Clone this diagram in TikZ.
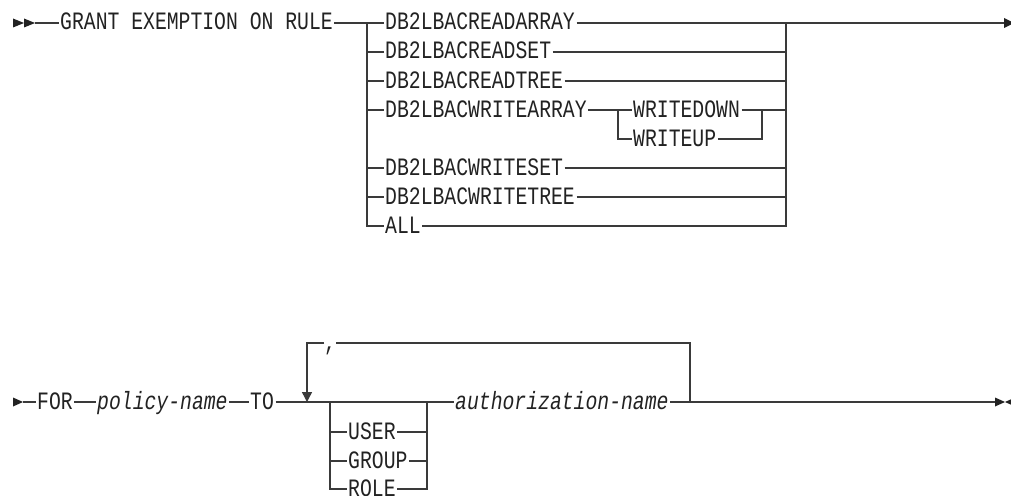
\documentclass[tikz,border=0pt]{standalone}
\usepackage{fontspec}
\newfontfamily\railfont[FakeStretch=0.79]{Liberation Mono}
\definecolor{railline}{HTML}{3A3A3A}
\definecolor{railtext}{HTML}{222222}
\usetikzlibrary{arrows.meta, calc}
\tikzset{
  kw/.style={
    font=\railfont\fontsize{25}{27}\selectfont, text=railtext,
    anchor=west, inner xsep=1.5pt, inner ysep=0pt,
    text height=14pt, text depth=0pt
  },
  var/.style={kw, font=\railfont\itshape\fontsize{25}{27}\selectfont},
  rail/.style={draw=railline, line width=1.4pt},
  loop/.style={rail, -{Triangle[length=10pt,width=10pt]}},
}

\begin{document}
\begin{tikzpicture}[x=1pt, y=-1pt]
  \useasboundingbox[fill=white] (0,0) rectangle (1011,495);

  % GRANT statement, first line
  \coordinate (topstart) at (35,23);
  \coordinate (topend) at (1004,23);
  \fill[railtext] (13,18.5) -- (24,23) -- (13,27.5) -- cycle;
  \fill[railtext] (24,18.5) -- (35,23) -- (24,27.5) -- cycle;
  \node[kw] (grant) at (58.5,23) {GRANT EXEMPTION ON RULE};

  \foreach \nm/\txt/\yy in {ra/DB2LBACREADARRAY/23, rs/DB2LBACREADSET/52,
      rt/DB2LBACREADTREE/81, wa/DB2LBACWRITEARRAY/110, ws/DB2LBACWRITESET/168,
      wt/DB2LBACWRITETREE/197, all/ALL/226}
    \node[kw] (\nm) at (383.5,\yy) {\txt};

  \node[kw] (wd) at (631.5,110) {WRITEDOWN};
  \node[kw] (wu) at (631.5,139) {WRITEUP};

  \coordinate (lbar) at (367,23);
  \coordinate (rbar) at (786,23);
  \coordinate (slbar) at (618,110);
  \coordinate (srbar) at (762,110);

  \draw[rail] (topstart) -- (grant.west);
  \draw[rail] (grant.east) -- (ra.west);
  \draw[rail] (ra.east) -- (topend);
  \draw[rail] (lbar) |- (all.west);
  \foreach \nm in {rs,rt,wa,ws,wt}
    \draw[rail] (lbar |- \nm.west) -- (\nm.west);
  \draw[rail] (rbar) |- (all.east);
  \foreach \nm in {rs,rt,ws,wt}
    \draw[rail] (\nm.east) -- (rbar |- \nm.east);

  % WRITEARRAY options
  \draw[rail] (wa.east) -- (wd.west);
  \draw[rail] (slbar) |- (wu.west);
  \draw[rail] (wd.east) -- (srbar) -- (rbar |- srbar);
  \draw[rail] (wu.east) -| (srbar);
  \fill[railtext] (topend) ++(0,-5) -- ++(10,5) -- ++(-10,5) -- cycle;

  % second line
  \coordinate (botstart) at (23,402);
  \coordinate (botend) at (995,402);
  \fill[railtext] (13,397.5) -- (23,402) -- (13,406.5) -- cycle;
  \node[kw] (for) at (35.5,402) {FOR};
  \node[var] (policy) at (95.5,402) {policy-name};
  \node[kw] (to) at (248.5,402) {TO};
  \node[var] (auth) at (453.5,402) {authorization-name};
  \node[kw] (user) at (346.5,432) {USER};
  \node[kw] (group) at (346.5,461) {GROUP};
  \node[kw] (role) at (346.5,489) {ROLE};
  \node[kw, inner xsep=0pt] (comma) at (324,343) {,};

  \coordinate (loopl) at (307,343);
  \coordinate (loopr) at (690,343);
  \coordinate (cl) at (330,402);
  \coordinate (cr) at (427,402);

  \draw[rail] (botstart) -- (for.west);
  \draw[rail] (for.east) -- (policy.west);
  \draw[rail] (policy.east) -- (to.west);
  \draw[rail] (to.east) -- (auth.west);
  \draw[rail] (auth.east) -- (botend);
  \draw[rail] (cl) |- (role.west);
  \draw[rail] (cl |- user.west) -- (user.west);
  \draw[rail] (cl |- group.west) -- (group.west);
  \draw[rail] (role.east) -| (cr);
  \draw[rail] (user.east) -- (cr |- user.east);
  \draw[rail] (group.east) -- (cr |- group.east);

  % repeat loop
  \draw[rail] (loopr |- auth.east) -- (loopr) -- (comma.east);
  \draw[loop] (comma.west) -- (loopl) -- (loopl |- to.east);

  \fill[railtext] (botend) ++(0,-4.5) -- ++(10,4.5) -- ++(-10,4.5) -- cycle;
  \fill[railtext] (1005,402) -- (1015,397.5) -- (1015,406.5) -- cycle;
\end{tikzpicture}
\end{document}
